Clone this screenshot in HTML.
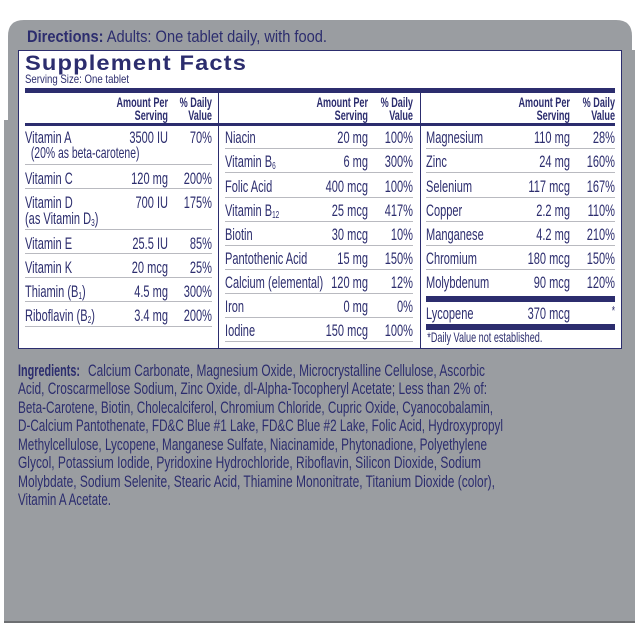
<!DOCTYPE html>
<html><head><meta charset="utf-8"><style>
html,body{margin:0;padding:0;background:#fff;width:640px;height:640px;overflow:hidden}
svg{display:block}
text{font-family:"Liberation Sans",sans-serif;fill:#2c2d6e}
.r{font-size:17px}
.h{font-size:14px;font-weight:bold}
.i{font-size:17px}
</style></head><body>
<svg width="640" height="640" viewBox="0 0 640 640" xmlns="http://www.w3.org/2000/svg">
<path d="M8 622 V36 Q8 20 24 20 H616 Q632 20 632 36 V622 Z" fill="#9a9da1"/>
<rect x="4" y="120" width="4" height="502" fill="#9a9da1"/>
<rect x="632" y="50" width="3" height="572" fill="#9a9da1"/>
<rect x="4" y="621" width="631" height="2" fill="#6d6f72"/>
<text x="27" y="42" font-size="16.5" textLength="300" lengthAdjust="spacingAndGlyphs"><tspan font-weight="bold">Directions:</tspan> Adults: One tablet daily, with food.</text>
<rect x="18.5" y="50.5" width="603" height="298" fill="#fff" stroke="#2c2d6e" stroke-width="1"/>
<text x="25" y="70" font-size="21" font-weight="bold" textLength="222" lengthAdjust="spacingAndGlyphs" style="letter-spacing:1px">Supplement Facts</text>
<text x="25" y="83" font-size="12" textLength="104" lengthAdjust="spacingAndGlyphs">Serving Size: One tablet</text>
<rect x="25" y="88" width="590" height="5" fill="#2c2d6e"/>
<rect x="25" y="123" width="590" height="3" fill="#2c2d6e"/>
<rect x="218" y="93" width="1" height="255" fill="#2c2d6e"/>
<rect x="420" y="93" width="1" height="255" fill="#2c2d6e"/>
<g fill="#b9bac0">
<rect x="25" y="164" width="187" height="1"/><rect x="25" y="188" width="187" height="1"/><rect x="25" y="229" width="187" height="1"/><rect x="25" y="253" width="187" height="1"/><rect x="25" y="277" width="187" height="1"/><rect x="25" y="301" width="187" height="1"/><rect x="25" y="326" width="187" height="1"/>
<rect x="225" y="148" width="188" height="1"/><rect x="225" y="172" width="188" height="1"/><rect x="225" y="197" width="188" height="1"/><rect x="225" y="221" width="188" height="1"/><rect x="225" y="245" width="188" height="1"/><rect x="225" y="269" width="188" height="1"/><rect x="225" y="293" width="188" height="1"/><rect x="225" y="317" width="188" height="1"/><rect x="225" y="341" width="188" height="1"/>
<rect x="426" y="148" width="189" height="1"/><rect x="426" y="172" width="189" height="1"/><rect x="426" y="197" width="189" height="1"/><rect x="426" y="221" width="189" height="1"/><rect x="426" y="245" width="189" height="1"/><rect x="426" y="269" width="189" height="1"/>
</g>
<rect x="426" y="296" width="189" height="6" fill="#2c2d6e"/>
<rect x="426" y="324" width="189" height="6" fill="#2c2d6e"/>

<g transform="translate(25,0) scale(0.65,1)">
<text x="220" y="107" class="h" text-anchor="end">Amount Per</text><text x="220" y="120" class="h" text-anchor="end">Serving</text>
<text x="287.7" y="107" class="h" text-anchor="end">% Daily</text><text x="287.7" y="120" class="h" text-anchor="end">Value</text>
<text x="0" y="143" class="r">Vitamin A</text><text x="220" y="143" class="r" text-anchor="end">3500 IU</text><text x="287.7" y="143" class="r" text-anchor="end">70%</text>
<text x="9" y="158" font-size="16">(20% as beta-carotene)</text>
<text x="0" y="184" class="r">Vitamin C</text><text x="220" y="184" class="r" text-anchor="end">120 mg</text><text x="287.7" y="184" class="r" text-anchor="end">200%</text>
<text x="0" y="208" class="r">Vitamin D</text><text x="220" y="208" class="r" text-anchor="end">700 IU</text><text x="287.7" y="208" class="r" text-anchor="end">175%</text>
<text x="0" y="224" class="r">(as Vitamin D<tspan font-size="10" dy="2">3</tspan><tspan dy="-2">)</tspan></text>
<text x="0" y="249" class="r">Vitamin E</text><text x="220" y="249" class="r" text-anchor="end">25.5 IU</text><text x="287.7" y="249" class="r" text-anchor="end">85%</text>
<text x="0" y="273" class="r">Vitamin K</text><text x="220" y="273" class="r" text-anchor="end">20 mcg</text><text x="287.7" y="273" class="r" text-anchor="end">25%</text>
<text x="0" y="297" class="r">Thiamin (B<tspan font-size="10" dy="2">1</tspan><tspan dy="-2">)</tspan></text><text x="220" y="297" class="r" text-anchor="end">4.5 mg</text><text x="287.7" y="297" class="r" text-anchor="end">300%</text>
<text x="0" y="321" class="r">Riboflavin (B<tspan font-size="10" dy="2">2</tspan><tspan dy="-2">)</tspan></text><text x="220" y="321" class="r" text-anchor="end">3.4 mg</text><text x="287.7" y="321" class="r" text-anchor="end">200%</text>
</g>

<g transform="translate(225,0) scale(0.65,1)">
<text x="220" y="107" class="h" text-anchor="end">Amount Per</text><text x="220" y="120" class="h" text-anchor="end">Serving</text>
<text x="289.2" y="107" class="h" text-anchor="end">% Daily</text><text x="289.2" y="120" class="h" text-anchor="end">Value</text>
<text x="0" y="143" class="r">Niacin</text><text x="220" y="143" class="r" text-anchor="end">20 mg</text><text x="289.2" y="143" class="r" text-anchor="end">100%</text>
<text x="0" y="167" class="r">Vitamin B<tspan font-size="10" dy="2">6</tspan></text><text x="220" y="167" class="r" text-anchor="end">6 mg</text><text x="289.2" y="167" class="r" text-anchor="end">300%</text>
<text x="0" y="192" class="r">Folic Acid</text><text x="220" y="192" class="r" text-anchor="end">400 mcg</text><text x="289.2" y="192" class="r" text-anchor="end">100%</text>
<text x="0" y="216" class="r">Vitamin B<tspan font-size="10" dy="2">12</tspan></text><text x="220" y="216" class="r" text-anchor="end">25 mcg</text><text x="289.2" y="216" class="r" text-anchor="end">417%</text>
<text x="0" y="240" class="r">Biotin</text><text x="220" y="240" class="r" text-anchor="end">30 mcg</text><text x="289.2" y="240" class="r" text-anchor="end">10%</text>
<text x="0" y="264" class="r">Pantothenic Acid</text><text x="220" y="264" class="r" text-anchor="end">15 mg</text><text x="289.2" y="264" class="r" text-anchor="end">150%</text>
<text x="0" y="288" class="r">Calcium (elemental)</text><text x="220" y="288" class="r" text-anchor="end">120 mg</text><text x="289.2" y="288" class="r" text-anchor="end">12%</text>
<text x="0" y="312" class="r">Iron</text><text x="220" y="312" class="r" text-anchor="end">0 mg</text><text x="289.2" y="312" class="r" text-anchor="end">0%</text>
<text x="0" y="336" class="r">Iodine</text><text x="220" y="336" class="r" text-anchor="end">150 mcg</text><text x="289.2" y="336" class="r" text-anchor="end">100%</text>
</g>

<g transform="translate(426,0) scale(0.65,1)">
<text x="221.5" y="107" class="h" text-anchor="end">Amount Per</text><text x="221.5" y="120" class="h" text-anchor="end">Serving</text>
<text x="290.8" y="107" class="h" text-anchor="end">% Daily</text><text x="290.8" y="120" class="h" text-anchor="end">Value</text>
<text x="0" y="143" class="r">Magnesium</text><text x="221.5" y="143" class="r" text-anchor="end">110 mg</text><text x="290.8" y="143" class="r" text-anchor="end">28%</text>
<text x="0" y="167" class="r">Zinc</text><text x="221.5" y="167" class="r" text-anchor="end">24 mg</text><text x="290.8" y="167" class="r" text-anchor="end">160%</text>
<text x="0" y="192" class="r">Selenium</text><text x="221.5" y="192" class="r" text-anchor="end">117 mcg</text><text x="290.8" y="192" class="r" text-anchor="end">167%</text>
<text x="0" y="216" class="r">Copper</text><text x="221.5" y="216" class="r" text-anchor="end">2.2 mg</text><text x="290.8" y="216" class="r" text-anchor="end">110%</text>
<text x="0" y="240" class="r">Manganese</text><text x="221.5" y="240" class="r" text-anchor="end">4.2 mg</text><text x="290.8" y="240" class="r" text-anchor="end">210%</text>
<text x="0" y="264" class="r">Chromium</text><text x="221.5" y="264" class="r" text-anchor="end">180 mcg</text><text x="290.8" y="264" class="r" text-anchor="end">150%</text>
<text x="0" y="288" class="r">Molybdenum</text><text x="221.5" y="288" class="r" text-anchor="end">90 mcg</text><text x="290.8" y="288" class="r" text-anchor="end">120%</text>
<text x="0" y="319" class="r">Lycopene</text><text x="221.5" y="319" class="r" text-anchor="end">370 mcg</text><text x="290.8" y="315" font-size="13" text-anchor="end">*</text>
<text x="2" y="342" font-size="14">*Daily Value not established.</text>
</g>

<text x="18" y="376" class="i" font-weight="bold" textLength="62" lengthAdjust="spacingAndGlyphs">Ingredients:</text>
<text x="88" y="376" class="i" textLength="397" lengthAdjust="spacingAndGlyphs">Calcium Carbonate, Magnesium Oxide, Microcrystalline Cellulose, Ascorbic</text>
<text x="18" y="394" class="i" textLength="469" lengthAdjust="spacingAndGlyphs">Acid, Croscarmellose Sodium, Zinc Oxide, dl-Alpha-Tocopheryl Acetate; Less than 2% of:</text>
<text x="18" y="413" class="i" textLength="475" lengthAdjust="spacingAndGlyphs">Beta-Carotene, Biotin, Cholecalciferol, Chromium Chloride, Cupric Oxide, Cyanocobalamin,</text>
<text x="18" y="431" class="i" textLength="485" lengthAdjust="spacingAndGlyphs">D-Calcium Pantothenate, FD&amp;C Blue #1 Lake, FD&amp;C Blue #2 Lake, Folic Acid, Hydroxypropyl</text>
<text x="18" y="450" class="i" textLength="469" lengthAdjust="spacingAndGlyphs">Methylcellulose, Lycopene, Manganese Sulfate, Niacinamide, Phytonadione, Polyethylene</text>
<text x="18" y="468" class="i" textLength="463" lengthAdjust="spacingAndGlyphs">Glycol, Potassium Iodide, Pyridoxine Hydrochloride, Riboflavin, Silicon Dioxide, Sodium</text>
<text x="18" y="487" class="i" textLength="477" lengthAdjust="spacingAndGlyphs">Molybdate, Sodium Selenite, Stearic Acid, Thiamine Mononitrate, Titanium Dioxide (color),</text>
<text x="18" y="505" class="i" textLength="93" lengthAdjust="spacingAndGlyphs">Vitamin A Acetate.</text>
</svg>
</body></html>
